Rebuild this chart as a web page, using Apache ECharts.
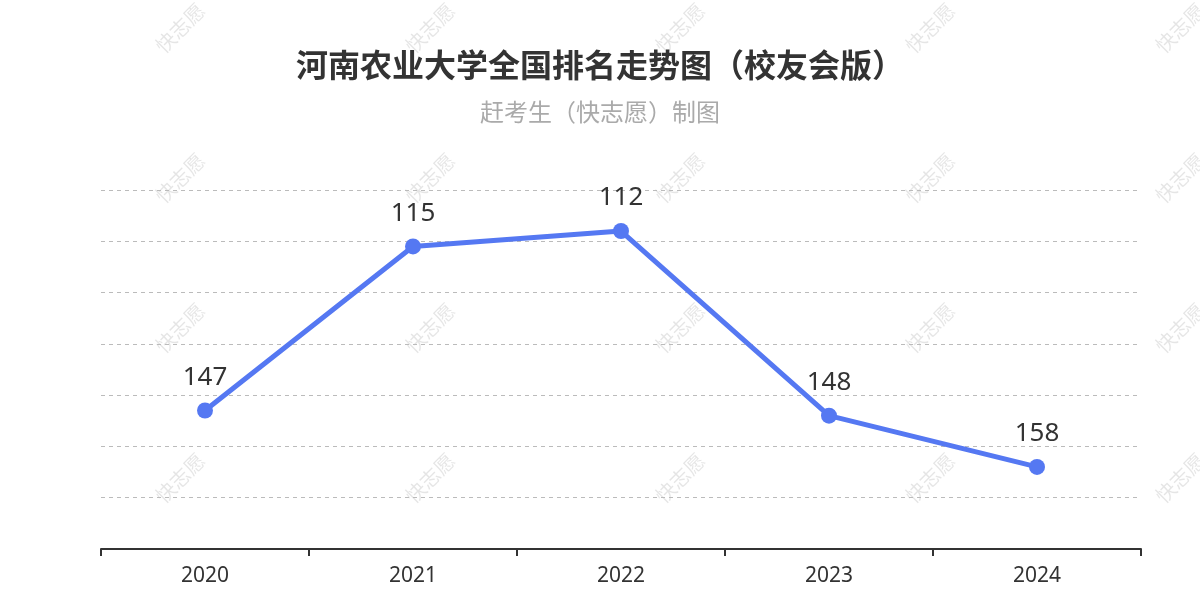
<!DOCTYPE html>
<html><head><meta charset="utf-8">
<script src="https://cdn.jsdelivr.net/npm/echarts@6/dist/echarts.min.js"></script>
<style>html,body{margin:0;padding:0;background:#fff}#c{width:1200px;height:600px}</style>
</head><body><div id="c"></div>
<script>
const years = ['2020', '2021', '2022', '2023', '2024'];
const ranks = [147, 115, 112, 148, 158];
const titleText = '河南农业大学全国排名走势图（校友会版）';
const subText = '赶考生（快志愿）制图';
const watermark = '快志愿';

const chart = echarts.init(document.getElementById('c'));
const marks = [];
const wxs = [180, 430, 680, 930, 1180];
const wys = [28, 178, 328, 478];
for (const y of wys) for (const x of wxs) {
  marks.push({type:'text', x:x, y:y, rotation:Math.PI/4, z:0,
    style:{text:watermark, fill:'rgba(0,0,0,0.10)', font:'20px "Noto Sans CJK SC"', align:'center', verticalAlign:'middle'}});
}
chart.setOption({
  backgroundColor:'#fff',
  textStyle:{fontFamily:'"Noto Sans CJK SC", "Noto Sans", sans-serif'},
  title:{text:titleText, subtext:subText, left:'center', top:44, itemGap:19,
    textStyle:{fontSize:32, fontWeight:'bold', color:'#333'},
    subtextStyle:{fontSize:24, color:'#aaa'}},
  graphic: marks,
  grid:{left:101, right:59, top:190, bottom:51},
  xAxis:{type:'category', data:years, boundaryGap:true,
    axisLine:{lineStyle:{color:'#333', width:2}},
    axisTick:{show:true, length:7, lineStyle:{color:'#333', width:2}},
    axisLabel:{fontSize:21, color:'#333', margin:17, fontFamily:'"Noto Sans", sans-serif'}},
  yAxis:{type:'value', inverse:true, min:104, max:174, interval:10,
    axisLabel:{show:false}, axisLine:{show:false}, axisTick:{show:false},
    splitLine:{lineStyle:{type:[4,4], color:'#bbb', width:1}}},
  series:[{type:'line', data:ranks, symbol:'circle', symbolSize:16,
    lineStyle:{width:5, color:'#5578F2'}, itemStyle:{color:'#5578F2'},
    label:{show:true, position:'top', distance:12, fontSize:26, color:'#333', fontFamily:'"Noto Sans", sans-serif'}}]
});
</script></body></html>
